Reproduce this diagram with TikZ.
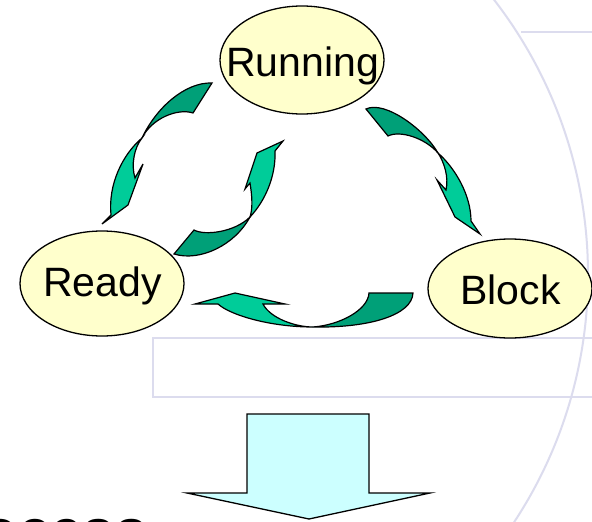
\documentclass[tikz,border=0pt]{standalone}
\usepackage{fontspec}
\setmainfont{Liberation Sans}
\usetikzlibrary{shapes.geometric}
\definecolor{statefill}{HTML}{FFFFCC}
\definecolor{arrowlight}{HTML}{00CC99}
\definecolor{arrowdark}{HTML}{00A078}
\definecolor{bigfill}{HTML}{CCFFFF}
\definecolor{bgline}{HTML}{DCDCEE}
\begin{document}
\begin{tikzpicture}[x=1pt,y=-1pt,
  stateshape/.style={ellipse, draw=black, line width=1.3pt, fill=statefill, inner sep=0pt, outer sep=0pt, minimum width=164pt},
  statetext/.style={font=\fontsize{41}{41}\selectfont, inner sep=0pt, anchor=base},
  lightpart/.style={fill=arrowlight, draw=black, line width=1.2pt, line join=miter},
  darkpart/.style={fill=arrowdark, draw=black, line width=1.2pt, line join=miter},
  bgstroke/.style={draw=bgline, line width=2pt},
  bigarrow/.style={fill=bigfill, draw=black, line width=1.3pt}]
\useasboundingbox (0,0) rectangle (592,522);
\clip (0,0) rectangle (592,522);
\fill[white] (0,0) rectangle (592,522);
% background decoration
\draw[bgstroke] (138,275) circle (450);
\draw[bgstroke] (521,32) -- (600,32);
\draw[bgstroke] (600,338) -- (153,338) -- (153,397) -- (600,397);
% states
\node[stateshape, minimum height=108pt] (running) at (302,60) {};
\node[stateshape, minimum height=105pt] (ready) at (102,283.5) {};
\node[stateshape, minimum height=99pt] (block) at (510,288.5) {};
\node[statetext] (runningtext) at (302.5,76) {Running};
\node[statetext] (readytext) at (102.5,296) {Ready};
\node[statetext] (blocktext) at (510.5,304) {Block};
% Running -> Ready
\path[darkpart] (212,83) -- (193,113) .. controls (178,108) and (152,118) .. (142,138)
  .. controls (156,108) and (185,82) .. cycle;
\path[lightpart] (142,138) .. controls (122,155) and (108,185) .. (111,215) -- (102,224) -- (128,205)
  -- (143,164) -- (135,178) .. controls (131,165) and (134,148) .. cycle;
% Ready -> Running
\path[darkpart] (174,254) -- (194,230) .. controls (205,236) and (235,232) .. (250,217)
  .. controls (235,245) and (200,262) .. cycle;
\path[lightpart] (250,217) .. controls (266,200) and (276,175) .. (275,151) -- (283,141) -- (257,153)
  -- (245,189) -- (250,183) .. controls (252,195) and (253,208) .. cycle;
% Running -> Block
\path[darkpart] (366,109) -- (388,136) .. controls (400,130) and (425,138) .. (438,153)
  .. controls (425,130) and (385,100) .. cycle;
\path[lightpart] (438,153) .. controls (455,168) and (471,195) .. (471,221) -- (480,234) -- (455,217)
  -- (437,180) -- (446,190) .. controls (449,177) and (444,162) .. cycle;
% Block -> Ready
\path[darkpart] (369,293) -- (413,293) .. controls (412,315) and (370,328) .. (313,327)
  .. controls (340,325) and (368,310) .. cycle;
\path[lightpart] (313,327) .. controls (270,327) and (230,315) .. (218,304) -- (195,304) -- (235,293)
  -- (285,304) -- (263,304) .. controls (270,318) and (295,327) .. cycle;
% big down arrow
\path[bigarrow] (247,414) -- (369,414) -- (369,493) -- (430,493) -- (309,519) -- (187,493) -- (247,493) -- cycle;
% partly visible caption
\node[font=\fontsize{58}{58}\selectfont\bfseries, anchor=base west, inner sep=0pt] (caption) at (-78.6,550) {Process};
\end{tikzpicture}
\end{document}
